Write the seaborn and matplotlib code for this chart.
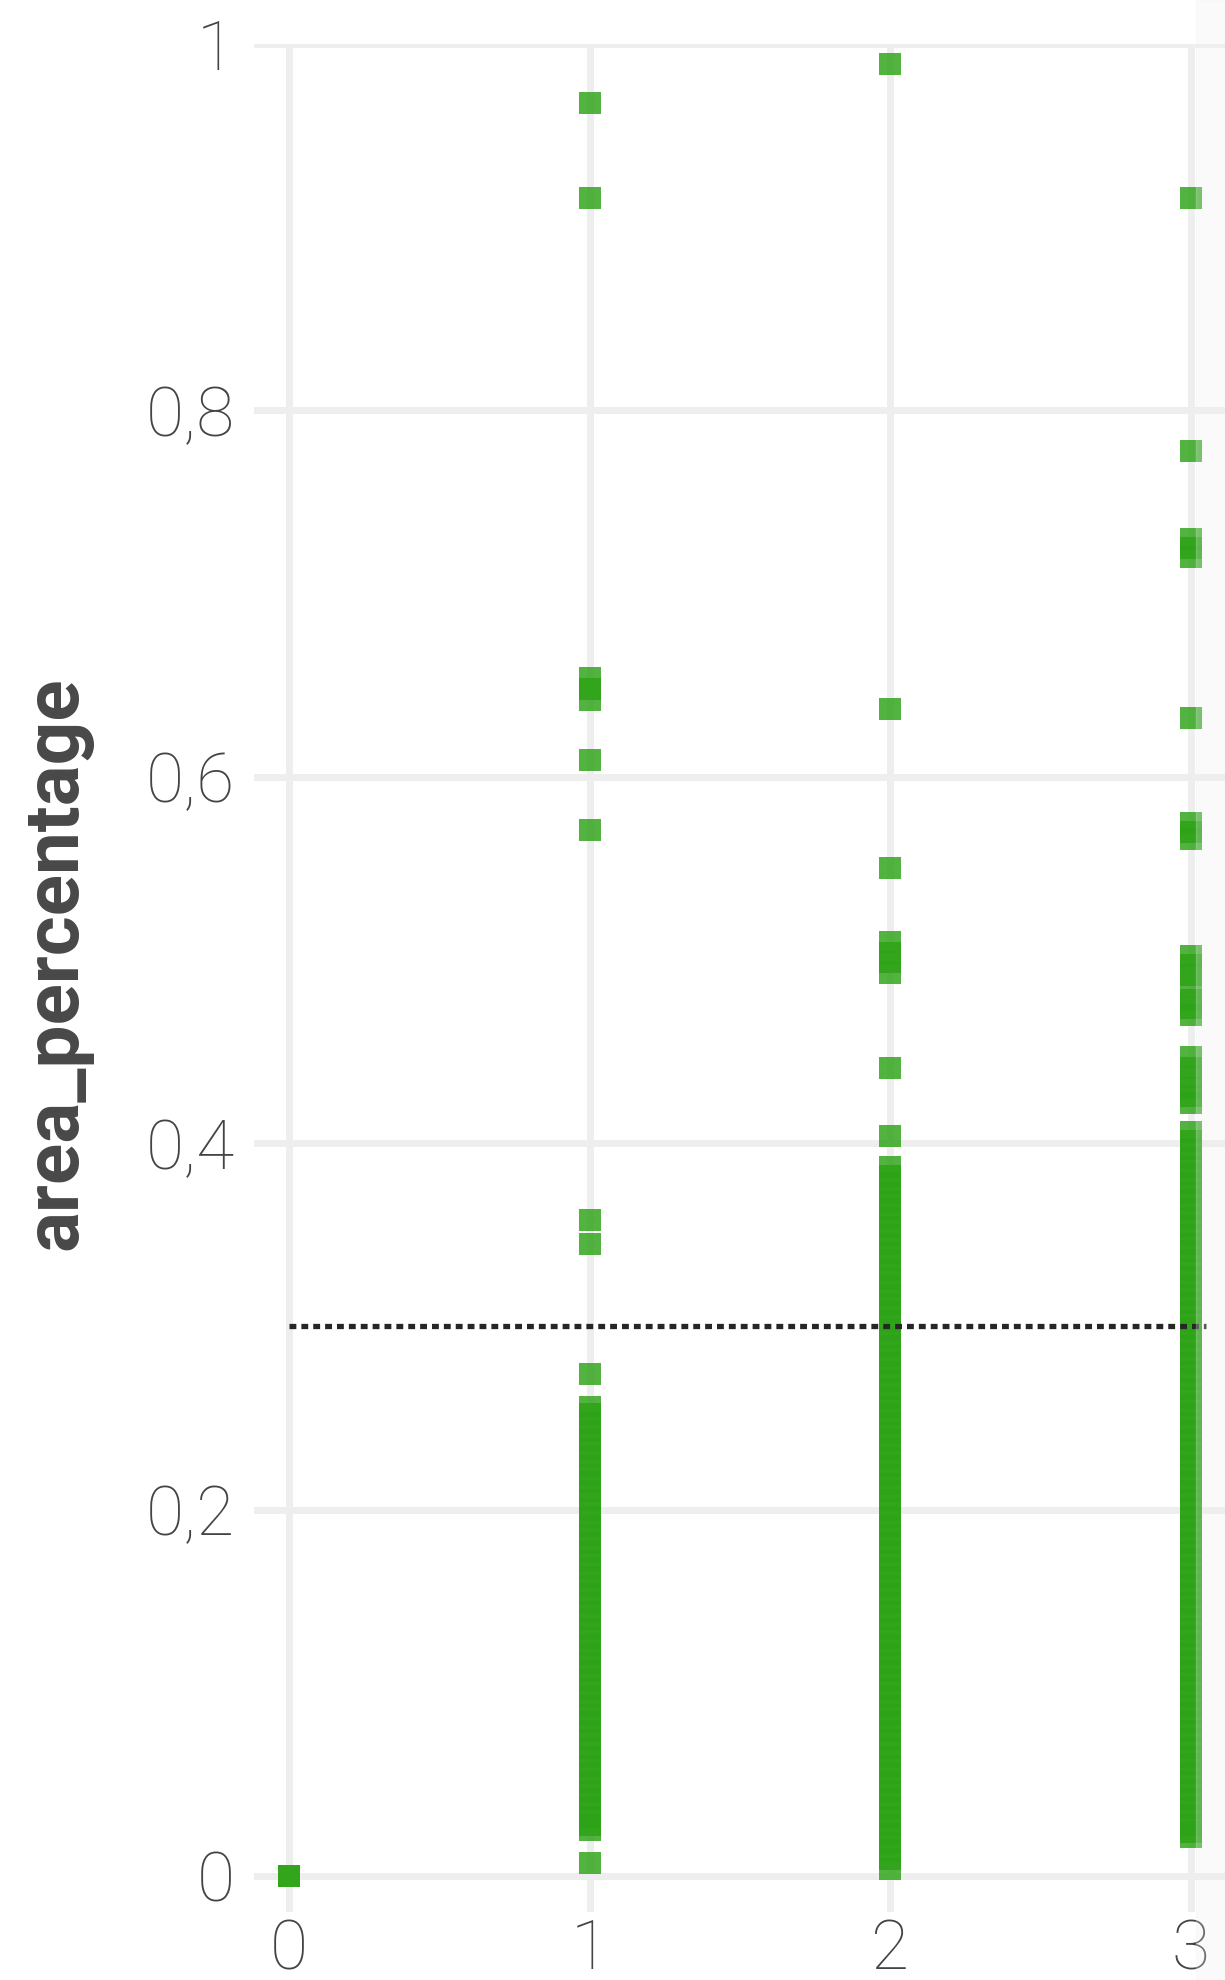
import matplotlib
matplotlib.use('Agg')
import matplotlib.pyplot as plt
import pandas as pd
import seaborn as sns

# values, one list per x category
col0 = [0.0, 0.0]
col1 = [0.968, 0.916, 0.654, 0.648, 0.642, 0.609, 0.571, 0.358, 0.345, 0.274,
        0.256, 0.252, 0.247, 0.243, 0.238, 0.233, 0.229, 0.224, 0.219, 0.215,
        0.21, 0.205, 0.2, 0.196, 0.191, 0.186, 0.182, 0.177, 0.172, 0.168,
        0.163, 0.158, 0.154, 0.149, 0.144, 0.14, 0.135, 0.13, 0.126, 0.121,
        0.116, 0.112, 0.107, 0.102, 0.098, 0.093, 0.088, 0.084, 0.079, 0.074,
        0.07, 0.065, 0.06, 0.056, 0.051, 0.046, 0.042, 0.037, 0.032, 0.028,
        0.025, 0.007]
col2 = [0.989, 0.637, 0.55, 0.51, 0.504, 0.499, 0.493, 0.441, 0.404,
        0.387, 0.382, 0.378, 0.373, 0.368, 0.364, 0.359, 0.354, 0.35, 0.345,
        0.34, 0.336, 0.331, 0.326, 0.322, 0.317, 0.312, 0.308, 0.303, 0.298,
        0.294, 0.289, 0.284, 0.28, 0.275, 0.27, 0.266, 0.261, 0.256, 0.252,
        0.247, 0.242, 0.238, 0.233, 0.228, 0.224, 0.219, 0.214, 0.21, 0.205,
        0.2, 0.196, 0.191, 0.186, 0.182, 0.177, 0.172, 0.168, 0.163, 0.158,
        0.154, 0.149, 0.144, 0.14, 0.135, 0.13, 0.126, 0.121, 0.116, 0.112,
        0.107, 0.102, 0.098, 0.093, 0.088, 0.084, 0.079, 0.074, 0.07, 0.065,
        0.06, 0.056, 0.051, 0.046, 0.042, 0.037, 0.032, 0.028, 0.023, 0.018,
        0.014, 0.009, 0.004]
col3 = [0.916, 0.778, 0.73, 0.725, 0.72, 0.632, 0.575, 0.57, 0.566,
        0.502, 0.497, 0.492, 0.485, 0.478, 0.474, 0.47,
        0.447, 0.441, 0.436, 0.43, 0.426, 0.422,
        0.406, 0.401, 0.397, 0.392, 0.387, 0.383, 0.378, 0.373, 0.369, 0.364,
        0.359, 0.355, 0.35, 0.345, 0.341, 0.336, 0.331, 0.327, 0.322, 0.317,
        0.313, 0.308, 0.303, 0.299, 0.294, 0.289, 0.285, 0.28, 0.275, 0.271,
        0.266, 0.261, 0.257, 0.252, 0.247, 0.243, 0.238, 0.233, 0.229, 0.224,
        0.219, 0.215, 0.21, 0.205, 0.201, 0.196, 0.191, 0.187, 0.182, 0.177,
        0.173, 0.168, 0.163, 0.159, 0.154, 0.149, 0.145, 0.14, 0.135, 0.131,
        0.126, 0.121, 0.117, 0.112, 0.107, 0.103, 0.098, 0.093, 0.089, 0.084,
        0.079, 0.075, 0.07, 0.065, 0.061, 0.056, 0.051, 0.047, 0.042, 0.037,
        0.033, 0.028, 0.024, 0.021]
threshold = 0.3
y_ticks = [0, 0.2, 0.4, 0.6, 0.8, 1]
y_tick_labels = ['0', '0,2', '0,4', '0,6', '0,8', '1']
x_ticks = [0, 1, 2, 3]

df = pd.DataFrame({
    'x': [0] * len(col0) + [1] * len(col1) + [2] * len(col2) + [3] * len(col3),
    'area_percentage': col0 + col1 + col2 + col3,
})

sns.set_style('whitegrid', {'grid.color': '#eeeeee', 'axes.edgecolor': 'white'})
plt.rcParams['font.family'] = ['Roboto', 'DejaVu Sans']

fig = plt.figure(figsize=(12.25, 19.8), dpi=100)
ax = fig.add_axes([254 / 1225, 1 - 1912 / 1980, 0.85, 1868 / 1980])

sns.scatterplot(data=df, x='x', y='area_percentage', marker='s', s=250,
                color='#2ca316', alpha=0.82, linewidth=0, ax=ax, zorder=3,
                clip_on=False)
ax.hlines(threshold, 0, 3.05, colors='#262626', linewidth=3.8,
          linestyles=(0, (1.3, 0.95)), zorder=4)

ax.set_xlim(-0.1165, -0.1165 + 1041 / 300.5)
ax.set_ylim(-0.0197, 1.0)
ax.set_xticks(x_ticks)
ax.set_xticklabels([str(v) for v in x_ticks])
ax.set_yticks(y_ticks)
ax.set_yticklabels(y_tick_labels)
ax.grid(True, color='#eeeeee', linewidth=5)
ax.set_axisbelow(True)
for s in ax.spines.values():
    s.set_visible(False)
ax.tick_params(axis='both', length=0, labelsize=50, labelcolor='#444444')
ax.tick_params(axis='y', pad=14)
ax.tick_params(axis='x', pad=4)
for lab in ax.get_xticklabels() + ax.get_yticklabels():
    lab.set_fontweight('light')

ax.set_xlabel('')
ax.set_ylabel('area_percentage', fontsize=55, fontweight='bold', color='#484848',
              va='center')
ax.yaxis.set_label_coords((56 - 254) / 1041, (1912 - 963) / 1868)

# faint tooltip shadow on the right edge
fig.patches.append(plt.Rectangle((1196 / 1225, 0), 29 / 1225, 1, transform=fig.transFigure,
                                 color='#eeeef2', alpha=0.25, zorder=10))

fig.savefig('out.png', dpi=100)
